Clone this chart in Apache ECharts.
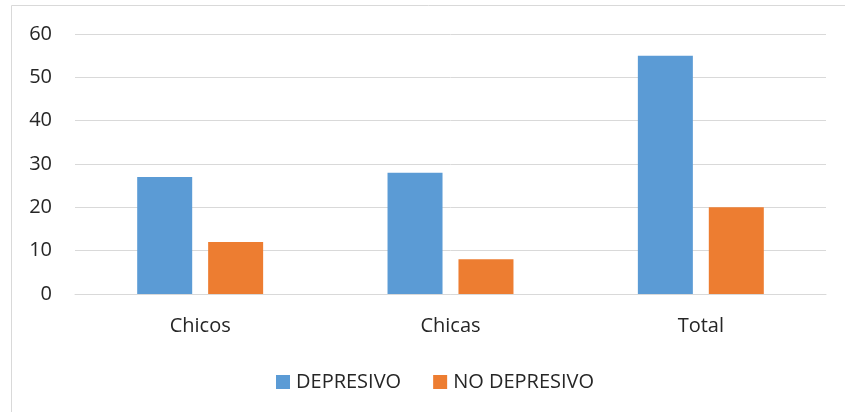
<!DOCTYPE html>
<html><head><meta charset="utf-8">
<script src="https://cdn.jsdelivr.net/npm/echarts@6/dist/echarts.min.js"></script>
<style>html,body{margin:0;padding:0;background:#fff}#c{width:845px;height:412px}</style>
</head><body><div id="c"></div>
<script>
const categories = ["Chicos", "Chicas", "Total"];
const depresivo = [27, 28, 55];
const noDepresivo = [12, 8, 20];
const yTicks = {min: 0, max: 60, interval: 10};

const chart = echarts.init(document.getElementById('c'), null, {renderer: 'canvas'});
const font = '"Open Sans", "Noto Sans", sans-serif';
chart.setOption({
  animation: false,
  textStyle: {fontFamily: font},
  graphic: [{type: 'rect', shape: {x: 11.5, y: 5.5, width: 850, height: 420}, style: {fill: 'none', stroke: '#d9d9d9', lineWidth: 1}, silent: true}],
  grid: {left: 75, right: 19, top: 34, bottom: 118},
  legend: {
    top: 367, left: 271, itemWidth: 14, itemHeight: 14, itemGap: 32,
    icon: 'rect',
    textStyle: {fontFamily: font, fontSize: 20, color: '#262626', padding: [0, 0, 0, 1]},
    data: ['DEPRESIVO', 'NO DEPRESIVO']
  },
  xAxis: {
    type: 'category', data: categories,
    axisLine: {lineStyle: {color: '#d9d9d9'}},
    axisTick: {show: false},
    axisLabel: {fontFamily: font, fontSize: 20, color: '#262626', margin: 22}
  },
  yAxis: {
    type: 'value', min: yTicks.min, max: yTicks.max, interval: yTicks.interval,
    axisLine: {show: false}, axisTick: {show: false},
    splitLine: {lineStyle: {color: '#d9d9d9'}},
    axisLabel: {fontFamily: font, fontSize: 20, color: '#262626', margin: 23}
  },
  series: [
    {name: 'DEPRESIVO', type: 'bar', data: depresivo, barWidth: 55, barGap: '29%', itemStyle: {color: '#5B9BD5'}},
    {name: 'NO DEPRESIVO', type: 'bar', data: noDepresivo, barWidth: 55, barGap: '29%', itemStyle: {color: '#ED7D31'}}
  ]
});
</script></body></html>
